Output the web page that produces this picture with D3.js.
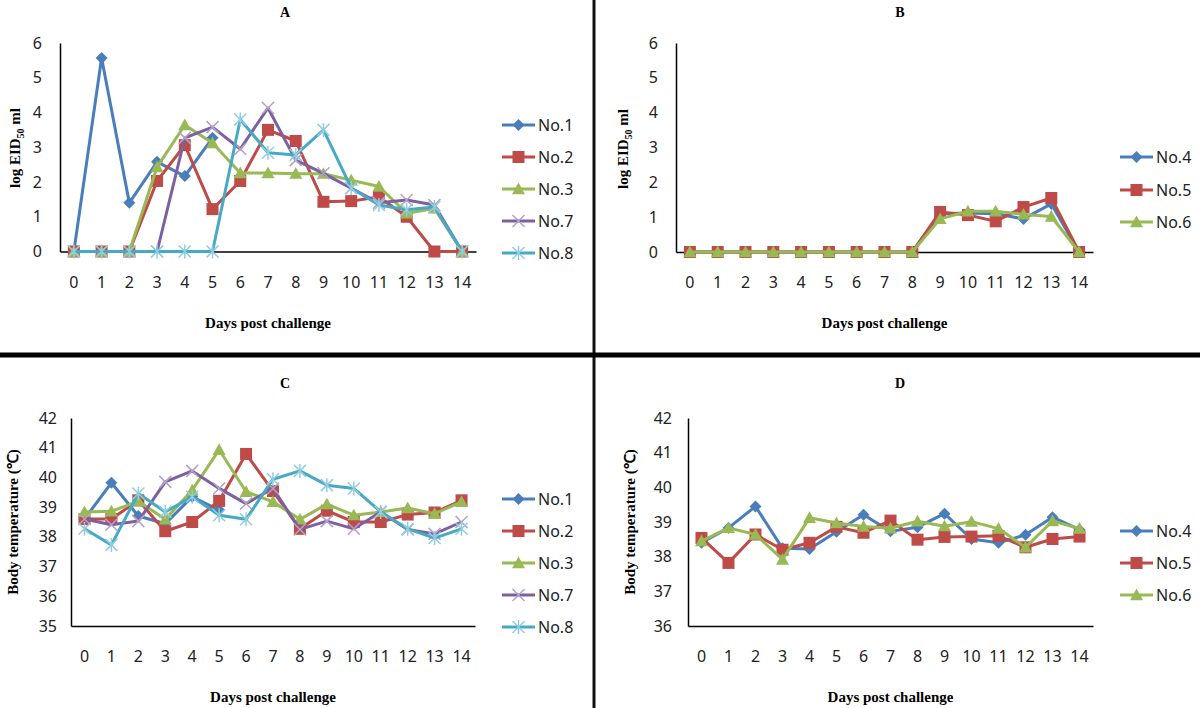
<!DOCTYPE html>
<html><head><meta charset="utf-8">
<script src="https://cdn.jsdelivr.net/npm/d3@7"></script>
<style>body{margin:0;background:#fff}svg{display:block}</style>
</head><body><svg id="c" width="1200" height="708"></svg>
<script>
// ---------- data ----------
const days = [0,1,2,3,4,5,6,7,8,9,10,11,12,13,14];
const virusTicks = [0,1,2,3,4,5,6];
const tempTicksC = [35,36,37,38,39,40,41,42];
const tempTicksD = [36,37,38,39,40,41,42];

const namesAC = ["No.1","No.2","No.3","No.7","No.8"];
const namesBD = ["No.4","No.5","No.6"];

// Panel A: log EID50/ml
const virusNo1 = [0,5.57,1.4,2.58,2.17,3.27];
const virusNo2 = [0,0,0,2.03,3.06,1.22,2.03,3.5,3.18,1.43,1.45,1.57,1.0,0,0];
const virusNo3 = [0,0,0,2.43,3.64,3.12,2.26,2.26,2.24,2.24,2.05,1.87,1.1,1.24,0];
const virusNo7 = [0,0,0,0,3.27,3.58,2.95,4.13,2.63,2.25,1.82,1.4,1.48,1.34,0];
const virusNo8 = [0,0,0,0,0,0,3.8,2.84,2.78,3.5,1.83,1.34,1.2,1.28,0];

// Panel B
const virusNo4 = [0,0,0,0,0,0,0,0,0,1.1,1.12,1.1,0.95,1.38,0];
const virusNo5 = [0,0,0,0,0,0,0,0,0,1.15,1.06,0.88,1.29,1.55,0];
const virusNo6 = [0,0,0,0,0,0,0,0,0,0.95,1.17,1.17,1.08,1.02,0];

// Panel C: body temperature
const tempNo1 = [38.6,39.82,38.7,38.44,39.35,38.9];
const tempNo2 = [38.6,38.6,39.23,38.19,38.5,39.21,40.79,39.54,38.27,38.88,38.5,38.5,38.75,38.82,39.23];
const tempNo3 = [38.84,38.86,39.2,38.59,39.57,40.93,39.52,39.18,38.59,39.1,38.73,38.84,38.97,38.78,39.18];
const tempNo7 = [38.6,38.41,38.53,39.85,40.22,39.63,39.12,39.63,38.25,38.53,38.27,38.84,38.25,38.1,38.5];
const tempNo8 = [38.27,37.73,39.46,38.84,39.35,38.73,38.59,39.94,40.22,39.74,39.63,38.84,38.27,37.96,38.27];

// Panel D
const tempNo4 = [38.4,38.83,39.45,38.24,38.22,38.72,39.21,38.73,38.85,39.24,38.51,38.4,38.63,39.14,38.78];
const tempNo5 = [38.54,37.82,38.64,38.2,38.4,38.86,38.69,39.04,38.49,38.57,38.58,38.6,38.27,38.51,38.58];
const tempNo6 = [38.45,38.83,38.64,37.92,39.12,38.97,38.87,38.82,39.02,38.88,39.01,38.81,38.27,39.03,38.81];

// ---------- styles ----------
const colors = {"No.1":"#4A7EBB","No.2":"#BE4B48","No.3":"#98B954","No.7":"#7D60A0","No.8":"#46AAC5",
                "No.4":"#4A7EBB","No.5":"#BE4B48","No.6":"#98B954"};
const markers = {"No.1":"diamond","No.2":"square","No.3":"triangle","No.7":"x","No.8":"star",
                 "No.4":"diamond","No.5":"square","No.6":"triangle"};
const markerLight = {"No.7":"#B3A2C7","No.8":"#93CDDD"};

const svg = d3.select("#c");

function drawMarker(g, type, cx, cy, name){
  const col = colors[name];
  if(type==="diamond"){
    const r=6;
    g.append("path").attr("d",`M${cx},${cy-r}L${cx+r},${cy}L${cx},${cy+r}L${cx-r},${cy}Z`).attr("fill",col);
  } else if(type==="square"){
    const r=6;
    g.append("rect").attr("x",cx-r).attr("y",cy-r).attr("width",2*r).attr("height",2*r).attr("fill",col);
  } else if(type==="triangle"){
    const r=6.5;
    g.append("path").attr("d",`M${cx},${cy-r}L${cx+r},${cy+r*0.8}L${cx-r},${cy+r*0.8}Z`).attr("fill",col);
  } else if(type==="x"){
    const r=6, c=markerLight[name];
    g.append("path").attr("d",`M${cx-r},${cy-r}L${cx+r},${cy+r}M${cx-r},${cy+r}L${cx+r},${cy-r}`)
      .attr("stroke",c).attr("stroke-width",1.5).attr("fill","none");
  } else if(type==="star"){
    const r=6, c=markerLight[name];
    g.append("path").attr("d",`M${cx-r},${cy-r}L${cx+r},${cy+r}M${cx-r},${cy+r}L${cx+r},${cy-r}M${cx},${cy-r-1}L${cx},${cy+r+1}`)
      .attr("stroke",c).attr("stroke-width",1.5).attr("fill","none");
  }
}

function panel(cfg){
  const x = d3.scaleBand().domain(days).range([cfg.x0, cfg.x1]);
  const y = d3.scaleLinear().domain(cfg.domain).range([cfg.yb, cfg.yt]);
  const g = svg.append("g");

  // axes
  const ya = g.append("g").attr("transform",`translate(${cfg.x0},0)`)
    .call(d3.axisLeft(y).tickValues(cfg.ticks).tickSize(0).tickPadding(cfg.ypad).tickFormat(d3.format("d")));
  ya.select(".domain").attr("stroke","#000").attr("stroke-width",1.5);
  ya.selectAll("text").attr("font-family","'Noto Sans', sans-serif").attr("font-size",16).attr("fill","#222");

  const xa = g.append("g").attr("transform",`translate(0,${cfg.yb})`)
    .call(d3.axisBottom(x).tickSize(0).tickPadding(25));
  xa.select(".domain").attr("stroke","#000").attr("stroke-width",1.5);
  xa.selectAll("text").attr("font-family","'Noto Sans', sans-serif").attr("font-size",16).attr("fill","#222");

  // series
  cfg.series.forEach(s=>{
    const line = d3.line().x((d,i)=>x(days[i])+x.bandwidth()/2).y(d=>y(d));
    g.append("path").datum(s.values).attr("d",line).attr("fill","none")
      .attr("stroke",colors[s.name]).attr("stroke-width",3).attr("stroke-linejoin","round");
    const mg = g.append("g");
    s.values.forEach((v,i)=>drawMarker(mg, markers[s.name], x(days[i])+x.bandwidth()/2, y(v), s.name));
  });

  // legend
  cfg.series.forEach((s,i)=>{
    const ly = cfg.legendY[i];
    const lg = g.append("g");
    lg.append("line").attr("x1",cfg.legendX).attr("x2",cfg.legendX+33).attr("y1",ly).attr("y2",ly)
      .attr("stroke",colors[s.name]).attr("stroke-width",3);
    drawMarker(lg, markers[s.name], cfg.legendX+16.5, ly, s.name);
    lg.append("text").attr("x",cfg.legendX+36).attr("y",ly).attr("dy","0.36em")
      .attr("font-family","'Noto Sans', sans-serif").attr("font-size",16).attr("fill","#222").text(s.name);
  });

  // title
  g.append("text").attr("x",cfg.titleX).attr("y",cfg.titleY).attr("text-anchor","middle")
    .attr("font-family","'Liberation Serif', serif").attr("font-weight","bold").attr("font-size",14).text(cfg.title);

  // x axis title
  g.append("text").attr("x",(cfg.x0+cfg.x1)/2).attr("y",cfg.yb+76).attr("text-anchor","middle")
    .attr("font-family","'Liberation Serif', serif").attr("font-weight","bold").attr("font-size",15)
    .text("Days post challenge");

  // y axis title
  const yt = g.append("text").attr("transform",`translate(${cfg.ylabX},${cfg.ylabY}) rotate(-90)`)
    .attr("text-anchor","middle").attr("font-family","'Liberation Serif', serif")
    .attr("font-weight","bold").attr("font-size",15);
  if(cfg.virus){
    yt.append("tspan").text("log EID");
    yt.append("tspan").attr("font-size",10).attr("dy",4).text("50");
    yt.append("tspan").attr("dy",-4).text(" ml");
  } else {
    yt.text("Body temperature (℃)");
  }
}

panel({title:"A", titleX:285, titleY:17, x0:60, x1:476, yb:251.5, yt:43, domain:[0,6], ticks:virusTicks, ypad:18,
  virus:true, ylabX:20, ylabY:148, legendX:502, legendY:[125,157,189,221,253],
  series:[{name:"No.1",values:virusNo1},{name:"No.2",values:virusNo2},{name:"No.3",values:virusNo3},
          {name:"No.7",values:virusNo7},{name:"No.8",values:virusNo8}]});

panel({title:"B", titleX:900, titleY:17, x0:676, x1:1093, yb:252, yt:43, domain:[0,6], ticks:virusTicks, ypad:18,
  virus:true, ylabX:628, ylabY:149, legendX:1120, legendY:[157,190,222],
  series:[{name:"No.4",values:virusNo4},{name:"No.5",values:virusNo5},{name:"No.6",values:virusNo6}]});

panel({title:"C", titleX:285, titleY:388, x0:71, x1:475, yb:626, yt:418, domain:[35,42], ticks:tempTicksC, ypad:14,
  virus:false, ylabX:18, ylabY:522, legendX:502, legendY:[499,531,563,595,627],
  series:[{name:"No.1",values:tempNo1},{name:"No.2",values:tempNo2},{name:"No.3",values:tempNo3},
          {name:"No.7",values:tempNo7},{name:"No.8",values:tempNo8}]});

panel({title:"D", titleX:900, titleY:388, x0:688, x1:1093, yb:626, yt:418, domain:[36,42], ticks:tempTicksD, ypad:16,
  virus:false, ylabX:635, ylabY:522, legendX:1120, legendY:[531,563,595],
  series:[{name:"No.4",values:tempNo4},{name:"No.5",values:tempNo5},{name:"No.6",values:tempNo6}]});

// panel dividers
svg.append("line").attr("x1",594).attr("x2",594).attr("y1",0).attr("y2",708).attr("stroke","#111").attr("stroke-width",3);
svg.append("line").attr("x1",0).attr("x2",1200).attr("y1",355).attr("y2",355).attr("stroke","#000").attr("stroke-width",5);
</script></body></html>
